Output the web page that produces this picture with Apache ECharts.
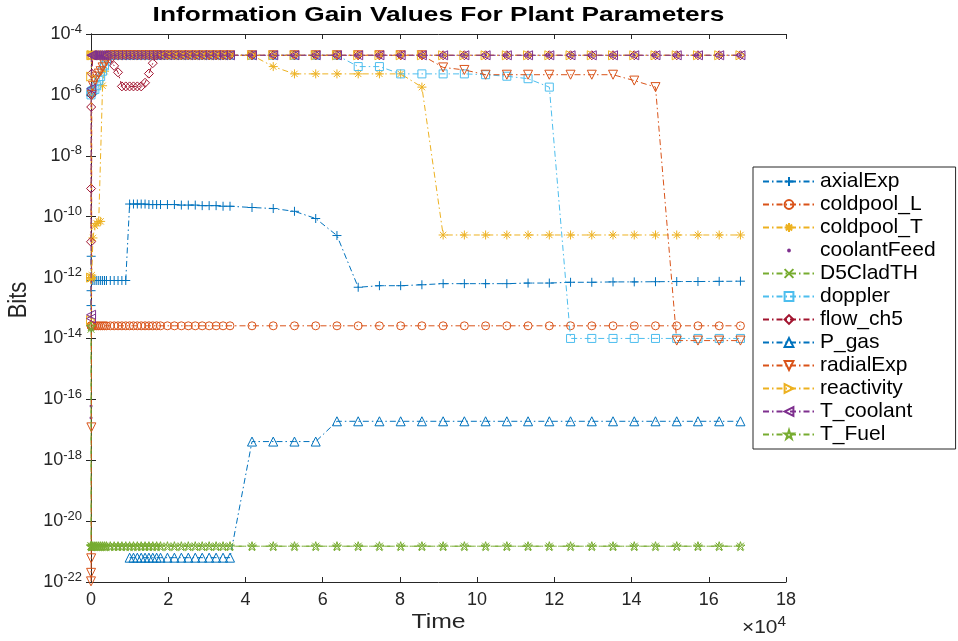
<!DOCTYPE html>
<html><head><meta charset="utf-8">
<script src="https://cdn.jsdelivr.net/npm/echarts@6/dist/echarts.min.js"></script>
<style>html,body{margin:0;padding:0;background:#fff}#c{width:958px;height:641px}</style>
</head><body><div id="c"></div>
<script>
// ---- data ----
const time = [
  0, 20, 50, 100, 200, 500, 1000, 1500, 2000, 2500, 3000, 3500, 4000, 5000, 6000, 7000, 8000, 9000,
  10000, 11000, 12000, 13000, 14000, 15000, 16000, 17000, 18000,
  19800, 21600, 23400, 25200, 27000, 28800, 30600, 32400, 34200, 36000,
  41700, 47200, 52700, 58200, 63700, 69200, 74700, 80200, 85700, 91200, 96700, 102200,
  107700, 113200, 118700, 124200, 129700, 135200, 140700, 146200, 151700, 157200, 162700, 168200
];
const seriesNames = ['axialExp','coldpool_L','coldpool_T','coolantFeed','D5CladTH','doppler','flow_ch5','P_gas','radialExp','reactivity','T_coolant','T_Fuel'];
const xTickLabels = ['0','2','4','6','8','10','12','14','16','18'];
const yTickExponents = [-22, -20, -18, -16, -14, -12, -10, -8, -6, -4];

const axialExp = [
  1.2e-13, 3.7e-13, 5e-12, 8e-13, 8e-13, 8e-13, 8e-13, 8e-13, 8e-13, 8e-13, 8e-13, 8e-13, 8e-13, 8e-13, 8e-13, 8e-13, 8e-13, 8e-13,
  2.6e-10, 2.6e-10, 2.6e-10, 2.6e-10, 2.6e-10, 2.5e-10, 2.5e-10, 2.5e-10, 2.5e-10,
  2.5e-10, 2.5e-10, 2.4e-10, 2.4e-10, 2.4e-10, 2.3e-10, 2.3e-10, 2.3e-10, 2.2e-10, 2.2e-10,
  2.0e-10, 1.85e-10, 1.5e-10, 8.7e-11, 2.4e-11, 4.8e-13, 5.4e-13, 5.4e-13, 5.8e-13, 6.3e-13, 6.3e-13, 6.3e-13,
  6.3e-13, 6.6e-13, 6.6e-13, 7e-13, 7e-13, 7.2e-13, 7.2e-13, 7.3e-13, 7.4e-13, 7.4e-13, 7.5e-13, 7.6e-13
];
const coldpool_L = [
  2.6e-14, 2.6e-14, 2.6e-14, 2.6e-14, 2.6e-14, 2.6e-14, 2.6e-14, 2.6e-14, 2.6e-14, 2.6e-14, 2.6e-14, 2.6e-14, 2.6e-14, 2.6e-14, 2.6e-14, 2.6e-14, 2.6e-14, 2.6e-14,
  2.6e-14, 2.6e-14, 2.6e-14, 2.6e-14, 2.6e-14, 2.6e-14, 2.6e-14, 2.6e-14, 2.6e-14,
  2.6e-14, 2.6e-14, 2.6e-14, 2.6e-14, 2.6e-14, 2.6e-14, 2.6e-14, 2.6e-14, 2.6e-14, 2.6e-14,
  2.6e-14, 2.6e-14, 2.6e-14, 2.6e-14, 2.6e-14, 2.6e-14, 2.6e-14, 2.6e-14, 2.6e-14, 2.6e-14, 2.6e-14, 2.6e-14,
  2.6e-14, 2.6e-14, 2.6e-14, 2.6e-14, 2.6e-14, 2.6e-14, 2.6e-14, 2.6e-14, 2.6e-14, 2.6e-14, 2.6e-14, 2.6e-14
];
const coldpool_T = [
  9e-13, 9e-13, 1e-12, 1e-12, 1.2e-12, 2e-11, 5e-11, 6e-11, 7e-11, 7e-11, 2e-6, 6e-6, 2e-5, 2e-5, 2e-5, 2e-5, 2e-5, 2e-5,
  2e-5, 2e-5, 2e-5, 2e-5, 2e-5, 2e-5, 2e-5, 2e-5, 2e-5,
  2e-5, 2e-5, 2e-5, 2e-5, 2e-5, 2e-5, 2e-5, 2e-5, 2e-5, 2e-5,
  2e-5, 8.5e-6, 4.9e-6, 4.9e-6, 4.9e-6, 4.9e-6, 4.9e-6, 4.9e-6, 1.8e-6, 2.5e-11, 2.5e-11, 2.5e-11,
  2.5e-11, 2.5e-11, 2.5e-11, 2.5e-11, 2.5e-11, 2.5e-11, 2.5e-11, 2.5e-11, 2.5e-11, 2.5e-11, 2.5e-11, 2.5e-11
];
const coolantFeed = [
  2.5e-17, 6e-17, 2e-14, 2e-5, 2e-5, 2e-5, 2e-5, 2e-5, 2e-5, 2e-5, 2e-5, 2e-5, 2e-5, 2e-5, 2e-5, 2e-5, 2e-5, 2e-5,
  2e-5, 2e-5, 2e-5, 2e-5, 2e-5, 2e-5, 2e-5, 2e-5, 2e-5,
  2e-5, 2e-5, 2e-5, 2e-5, 2e-5, 2e-5, 2e-5, 2e-5, 2e-5, 2e-5,
  2e-5, 2e-5, 2e-5, 2e-5, 2e-5, 2e-5, 2e-5, 2e-5, 2e-5, 2e-5, 2e-5, 2e-5,
  2e-5, 2e-5, 2e-5, 2e-5, 2e-5, 2e-5, 2e-5, 2e-5, 2e-5, 2e-5, 2e-5, 2e-5
];
const D5CladTH = [
  2e-14, 1.5e-21, 1.5e-21, 1.5e-21, 1.5e-21, 1.5e-21, 1.5e-21, 1.5e-21, 1.5e-21, 1.5e-21, 1.5e-21, 1.5e-21, 1.5e-21, 1.5e-21, 1.5e-21, 1.5e-21, 1.5e-21, 1.5e-21,
  1.5e-21, 1.5e-21, 1.5e-21, 1.5e-21, 1.5e-21, 1.5e-21, 1.5e-21, 1.5e-21, 1.5e-21,
  1.5e-21, 1.5e-21, 1.5e-21, 1.5e-21, 1.5e-21, 1.5e-21, 1.5e-21, 1.5e-21, 1.5e-21, 1.5e-21,
  1.5e-21, 1.5e-21, 1.5e-21, 1.5e-21, 1.5e-21, 1.5e-21, 1.5e-21, 1.5e-21, 1.5e-21, 1.5e-21, 1.5e-21, 1.5e-21,
  1.5e-21, 1.5e-21, 1.5e-21, 1.5e-21, 1.5e-21, 1.5e-21, 1.5e-21, 1.5e-21, 1.5e-21, 1.5e-21, 1.5e-21, 1.5e-21
];
const doppler = [
  1e-6, 1.2e-6, 1.2e-6, 1.3e-6, 1.3e-6, 1.4e-6, 1.5e-6, 2e-6, 3e-6, 4e-6, 6e-6, 9e-6, 1.3e-5, 2e-5, 2e-5, 2e-5, 2e-5, 2e-5,
  2e-5, 2e-5, 2e-5, 2e-5, 2e-5, 2e-5, 2e-5, 2e-5, 2e-5,
  2e-5, 2e-5, 2e-5, 2e-5, 2e-5, 2e-5, 2e-5, 2e-5, 2e-5, 2e-5,
  2e-5, 2e-5, 2e-5, 2e-5, 2e-5, 8.5e-6, 8.5e-6, 4.9e-6, 4.9e-6, 4.9e-6, 4.9e-6, 4.6e-6,
  4.1e-6, 3.4e-6, 1.8e-6, 1e-14, 1e-14, 1e-14, 1e-14, 1e-14, 1e-14, 1e-14, 1e-14, 1e-14
];
const flow_ch5 = [
  1.5e-11, 8.4e-10, 4e-7, 1e-6, 5e-6, 2e-5, 2e-5, 2e-5, 2e-5, 2e-5, 2e-5, 2e-5, 2e-5, 1.5e-5, 9e-6, 5.5e-6, 1.9e-6, 1.9e-6,
  1.9e-6, 1.9e-6, 1.9e-6, 1.9e-6, 2.5e-6, 5e-6, 1.1e-5, 2e-5, 2e-5,
  2e-5, 2e-5, 2e-5, 2e-5, 2e-5, 2e-5, 2e-5, 2e-5, 2e-5, 2e-5,
  2e-5, 2e-5, 2e-5, 2e-5, 2e-5, 2e-5, 2e-5, 2e-5, 2e-5, 2e-5, 2e-5, 2e-5,
  2e-5, 2e-5, 2e-5, 2e-5, 2e-5, 2e-5, 2e-5, 2e-5, 2e-5, 2e-5, 2e-5, 2e-5
];
const P_gas = [
  null, null, null, null, null, null, null, null, null, null, null, null, null, null, null, null, null, null,
  6.3e-22, 6.3e-22, 6.3e-22, 6.3e-22, 6.3e-22, 6.3e-22, 6.3e-22, 6.3e-22, 6.3e-22,
  6.3e-22, 6.3e-22, 6.3e-22, 6.3e-22, 6.3e-22, 6.3e-22, 6.3e-22, 6.3e-22, 6.3e-22, 6.3e-22,
  4.1e-18, 4.1e-18, 4.1e-18, 4.1e-18, 1.9e-17, 1.9e-17, 1.9e-17, 1.9e-17, 1.9e-17, 1.9e-17, 1.9e-17, 1.9e-17,
  1.9e-17, 1.9e-17, 1.9e-17, 1.9e-17, 1.9e-17, 1.9e-17, 1.9e-17, 1.9e-17, 1.9e-17, 1.9e-17, 1.9e-17, 1.9e-17
];
const radialExp = [
  1.05e-22, 2e-22, 6e-22, 1.2e-17, 1e-6, 2e-6, 3e-6, 4e-6, 5e-6, 6e-6, 8e-6, 1e-5, 1.3e-5, 2e-5, 2e-5, 2e-5, 2e-5, 2e-5,
  2e-5, 2e-5, 2e-5, 2e-5, 2e-5, 2e-5, 2e-5, 2e-5, 2e-5,
  2e-5, 2e-5, 2e-5, 2e-5, 2e-5, 2e-5, 2e-5, 2e-5, 2e-5, 2e-5,
  2e-5, 2e-5, 2e-5, 2e-5, 2e-5, 2e-5, 2e-5, 2e-5, 2e-5, 8e-6, 6.6e-6, 4.6e-6,
  4.6e-6, 4.6e-6, 4.6e-6, 4.6e-6, 4.6e-6, 4.6e-6, 2.95e-6, 1.8e-6, 8.5e-15, 8.5e-15, 8.5e-15, 8.5e-15
];
const reactivity = [
  4e-14, 1e-12, 4e-6, 2e-5, 2e-5, 2e-5, 2e-5, 2e-5, 2e-5, 2e-5, 2e-5, 2e-5, 2e-5, 2e-5, 2e-5, 2e-5, 2e-5, 2e-5,
  2e-5, 2e-5, 2e-5, 2e-5, 2e-5, 2e-5, 2e-5, 2e-5, 2e-5,
  2e-5, 2e-5, 2e-5, 2e-5, 2e-5, 2e-5, 2e-5, 2e-5, 2e-5, 2e-5,
  2e-5, 2e-5, 2e-5, 2e-5, 2e-5, 2e-5, 2e-5, 2e-5, 2e-5, 2e-5, 2e-5, 2e-5,
  2e-5, 2e-5, 2e-5, 2e-5, 2e-5, 2e-5, 2e-5, 2e-5, 2e-5, 2e-5, 2e-5, 2e-5
];
const T_coolant = [
  4.5e-14, 6e-14, 1.6e-6, 2e-5, 2e-5, 2e-5, 2e-5, 2e-5, 2e-5, 2e-5, 2e-5, 2e-5, 2e-5, 2e-5, 2e-5, 2e-5, 2e-5, 2e-5,
  2e-5, 2e-5, 2e-5, 2e-5, 2e-5, 2e-5, 2e-5, 2e-5, 2e-5,
  2e-5, 2e-5, 2e-5, 2e-5, 2e-5, 2e-5, 2e-5, 2e-5, 2e-5, 2e-5,
  2e-5, 2e-5, 2e-5, 2e-5, 2e-5, 2e-5, 2e-5, 2e-5, 2e-5, 2e-5, 2e-5, 2e-5,
  2e-5, 2e-5, 2e-5, 2e-5, 2e-5, 2e-5, 2e-5, 2e-5, 2e-5, 2e-5, 2e-5, 2e-5
];
const T_Fuel = [
  2.5e-14, 1.5e-21, 1.5e-21, 1.5e-21, 1.5e-21, 1.5e-21, 1.5e-21, 1.5e-21, 1.5e-21, 1.5e-21, 1.5e-21, 1.5e-21, 1.5e-21, 1.5e-21, 1.5e-21, 1.5e-21, 1.5e-21, 1.5e-21,
  1.5e-21, 1.5e-21, 1.5e-21, 1.5e-21, 1.5e-21, 1.5e-21, 1.5e-21, 1.5e-21, 1.5e-21,
  1.5e-21, 1.5e-21, 1.5e-21, 1.5e-21, 1.5e-21, 1.5e-21, 1.5e-21, 1.5e-21, 1.5e-21, 1.5e-21,
  1.5e-21, 1.5e-21, 1.5e-21, 1.5e-21, 1.5e-21, 1.5e-21, 1.5e-21, 1.5e-21, 1.5e-21, 1.5e-21, 1.5e-21, 1.5e-21,
  1.5e-21, 1.5e-21, 1.5e-21, 1.5e-21, 1.5e-21, 1.5e-21, 1.5e-21, 1.5e-21, 1.5e-21, 1.5e-21, 1.5e-21, 1.5e-21
];

// ---- styling ----
const FONT = "'Liberation Sans', Arial, Helvetica, sans-serif";
const AX = '#262626';
const C = { blue:'#0072BD', orange:'#D95319', yellow:'#EDB120', purple:'#7E2F8E', green:'#77AC30', cyan:'#4DBEEE', red:'#A2142F' };
const SYM = {
  plus: 'path://M5,0L5,10M0,5L10,5',
  circle: 'circle',
  asterisk: 'path://M5,0L5,10M0,5L10,5M1.5,1.5L8.5,8.5M8.5,1.5L1.5,8.5',
  dot: 'circle',
  cross: 'path://M0,0L10,10M10,0L0,10',
  square: 'path://M0,0L10,0L10,10L0,10Z',
  diamond: 'path://M5,0L10,5L5,10L0,5Z',
  triUp: 'path://M5,0L10,8.66L0,8.66Z',
  triDown: 'path://M0,0L10,0L5,8.66Z',
  triRight: 'path://M0,0L8.66,5L0,10Z',
  triLeft: 'path://M8.66,0L0,5L8.66,10Z',
  star: 'path://M50,0L61.23,34.55L97.55,34.55L68.17,55.9L79.39,90.45L50,69.1L20.61,90.45L31.83,55.9L2.45,34.55L38.77,34.55Z'
};
const DASHDOT = [6, 3, 1.5, 3];
const specs = [
  [axialExp, C.blue, SYM.plus, 9],
  [coldpool_L, C.orange, SYM.circle, 8],
  [coldpool_T, C.yellow, SYM.asterisk, 9],
  [coolantFeed, C.purple, SYM.dot, 3],
  [D5CladTH, C.green, SYM.cross, 7],
  [doppler, C.cyan, SYM.square, 8],
  [flow_ch5, C.red, SYM.diamond, 9],
  [P_gas, C.blue, SYM.triUp, 9],
  [radialExp, C.orange, SYM.triDown, 9],
  [reactivity, C.yellow, SYM.triRight, 9],
  [T_coolant, C.purple, SYM.triLeft, 9],
  [T_Fuel, C.green, SYM.star, 9]
];

// The y axis is a base-10 logarithmic scale (decade exponents on a value axis;
// ECharts 6's log axis cannot reach 1e-22).
const lg = v => (v == null ? null : Math.log10(v));

const series = specs.map((s, i) => {
  const [vals, col, sym, size] = s;
  const isDot = seriesNames[i] === 'coolantFeed';
  return {
    name: seriesNames[i],
    type: 'line',
    data: time.map((t, j) => [t, lg(vals[j])]),
    symbol: sym,
    symbolSize: size,
    showAllSymbol: true,
    connectNulls: false,
    clip: true,
    itemStyle: isDot ? { color: col, borderWidth: 0 } : { color: 'rgba(255,255,255,0)', borderColor: col, borderWidth: 1 },
    lineStyle: isDot ? { width: 0, opacity: 0, color: col } : { color: col, width: 1, type: DASHDOT },
    emphasis: { disabled: true },
    z: 2 + i
  };
});

const legendData = seriesNames.map(n => n === 'coolantFeed'
  ? { name: n, itemStyle: { color: C.purple, borderColor: '#fff', borderWidth: 5 } }
  : { name: n });

const yMin = yTickExponents[0], yMax = yTickExponents[yTickExponents.length - 1];
const yStep = yTickExponents[1] - yTickExponents[0];
const yLabel = v => '{b|10}{s|' + Math.round(v) + '}';

const chart = echarts.init(document.getElementById('c'), null, { renderer: 'canvas' });
chart.setOption({
  animation: false,
  backgroundColor: '#fff',
  textStyle: { fontFamily: FONT },
  grid: { left: 91, right: 172, top: 34, bottom: 59, containLabel: false },
  xAxis: [
    { type: 'value', min: 0, max: 180000, interval: 20000, position: 'bottom',
      axisLine: { lineStyle: { color: AX, width: 1 } },
      axisTick: { inside: true, length: 5, lineStyle: { color: AX } },
      axisLabel: { color: AX, fontSize: 18, fontFamily: FONT, margin: 9,
        formatter: v => xTickLabels[Math.round(v / 20000)] },
      splitLine: { show: false } },
    { type: 'value', min: 0, max: 180000, interval: 20000, position: 'top',
      axisLine: { lineStyle: { color: AX, width: 1 } },
      axisTick: { inside: true, length: 5, lineStyle: { color: AX } },
      axisLabel: { show: false }, splitLine: { show: false } }
  ],
  yAxis: [
    { type: 'value', min: yMin, max: yMax, interval: yStep, position: 'left',
      axisLine: { show: true, lineStyle: { color: AX, width: 1 } },
      axisTick: { show: true, inside: true, length: 5, lineStyle: { color: AX } },
      axisLabel: { color: AX, margin: 9, formatter: yLabel,
        rich: { b: { fontSize: 18, fontFamily: FONT, color: AX },
                s: { fontSize: 13, fontFamily: FONT, color: AX, padding: [0, 0, 10, 0] } } },
      splitLine: { show: false } },
    { type: 'value', min: yMin, max: yMax, interval: yStep, position: 'right',
      axisLine: { show: true, lineStyle: { color: AX, width: 1 } },
      axisTick: { show: true, inside: true, length: 5, lineStyle: { color: AX } },
      axisLabel: { show: false }, splitLine: { show: false } }
  ],
  legend: {
    orient: 'vertical', left: 753, top: 167,
    padding: [4, 20, 4, 9],
    itemWidth: 52, itemHeight: 11, itemGap: 2,
    backgroundColor: '#fff', borderColor: AX, borderWidth: 1,
    textStyle: { fontSize: 21, fontFamily: FONT, color: '#000', lineHeight: 21 },
    data: legendData
  },
  graphic: [
    { type: 'text', x: 438.5, y: 15, scaleX: 1.25, style: { text: 'Information Gain Values For Plant Parameters',
      fontSize: 21, fontWeight: 'bold', fontFamily: FONT, fill: '#000', align: 'center', verticalAlign: 'middle' } },
    { type: 'text', x: 19, y: 300, rotation: Math.PI / 2, scaleY: 1.15, style: { text: 'Bits',
      fontSize: 22, fontFamily: FONT, fill: AX, align: 'center', verticalAlign: 'middle' } },
    { type: 'text', x: 438.5, y: 622, scaleX: 1.18, style: { text: 'Time',
      fontSize: 21, fontFamily: FONT, fill: AX, align: 'center', verticalAlign: 'middle' } },
    { type: 'text', x: 786, y: 628, scaleX: 1.1, style: { text: '×10{s|4}', fontSize: 19, fontFamily: FONT, fill: AX,
      align: 'right', verticalAlign: 'middle',
      rich: { s: { fontSize: 14, fontFamily: FONT, fill: AX, padding: [0, 0, 11, 0] } } } }
  ],
  series: series
});
</script></body></html>
